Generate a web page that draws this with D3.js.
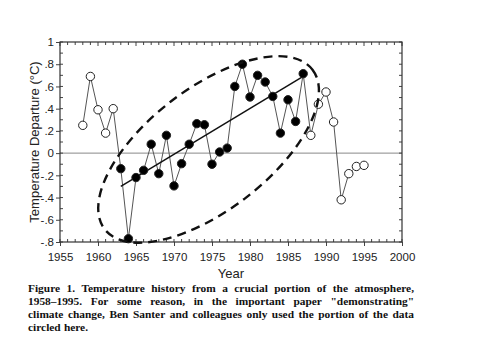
<!DOCTYPE html>
<html>
<head>
<meta charset="utf-8">
<script src="https://cdn.jsdelivr.net/npm/d3@7"></script>
<style>
  html, body { margin: 0; padding: 0; background: #fff; }
  svg { display: block; }
</style>
</head>
<body>
<div id="chart"></div>
<script>
// ---- data ----
const years = [1958,1959,1960,1961,1962,1963,1964,1965,1966,1967,1968,1969,1970,1971,1972,1973,1974,1975,1976,1977,1978,1979,1980,1981,1982,1983,1984,1985,1986,1987,1988,1989,1990,1991,1992,1993,1994,1995];
const temps = [0.25,0.69,0.39,0.18,0.40,-0.14,-0.77,-0.22,-0.155,0.08,-0.185,0.16,-0.295,-0.095,0.08,0.265,0.255,-0.10,0.01,0.045,0.60,0.80,0.505,0.70,0.64,0.51,0.18,0.48,0.285,0.715,0.16,0.44,0.55,0.28,-0.42,-0.185,-0.12,-0.11];
const usedRange = [1963, 1987];            // filled (circled) portion
const trendYears = [1963, 1987];
const trendValues = [-0.30, 0.69];
const ellipseCenter = [1974.55, 0.033];    // year, value
const xTicks = [1955,1960,1965,1970,1975,1980,1985,1990,1995,2000];
const yTicks = [-0.8,-0.6,-0.4,-0.2,0,0.2,0.4,0.6,0.8,1];
const yTickLabels = ["-.8","-.6","-.4","-.2","0",".2",".4",".6",".8","1"];
const captionLines = [
  "Figure 1. Temperature history from a crucial portion of the atmosphere,",
  "1958\u20131995. For some reason, in the important paper \"demonstrating\"",
  "climate change, Ben Santer and colleagues only used the portion of the data",
  "circled here."
];

// ---- layout ----
const W = 480, H = 361;
const svg = d3.select("#chart").append("svg").attr("width", W).attr("height", H);
svg.append("rect").attr("width", W).attr("height", H).attr("fill", "#fff");

const x = d3.scaleLinear().domain([1955, 2000]).range([60, 402]);
const y = d3.scaleLinear().domain([-0.8, 1]).range([242, 42]);
const L = x.range()[0], R = x.range()[1], T = y.range()[1], B = y.range()[0];

const sansFont = "'Liberation Sans', Arial, sans-serif";
const minorX = d3.range(1955, 2001, 1);
const minorY = d3.range(-8, 11, 1).map(d => d / 10);

// zero line
svg.append("line").attr("x1", L).attr("x2", R).attr("y1", y(0)).attr("y2", y(0))
  .attr("stroke", "#888").attr("stroke-width", 1);

// axes: bottom & left (major outward, minor inward)
const gB = svg.append("g").attr("transform", `translate(0,${B})`);
gB.call(d3.axisBottom(x).tickValues(xTicks).tickFormat(d3.format("d")).tickSize(4).tickPadding(7))
  .call(g => g.select(".domain").remove());
gB.selectAll("text").attr("font-family", sansFont).attr("font-size", 11.5).attr("fill", "#222");
gB.selectAll(".tick line").attr("stroke", "#444");
gB.append("g").selectAll("line").data(minorX).join("line")
  .attr("x1", d => x(d)).attr("x2", d => x(d)).attr("y1", 0).attr("y2", -3).attr("stroke", "#444");

const gL = svg.append("g").attr("transform", `translate(${L},0)`);
gL.call(d3.axisLeft(y).tickValues(yTicks).tickFormat((d, i) => yTickLabels[i]).tickSize(4).tickPadding(2))
  .call(g => g.select(".domain").remove());
gL.selectAll("text").attr("font-family", sansFont).attr("font-size", 11.5).attr("fill", "#222");
gL.selectAll(".tick line").attr("stroke", "#444");
gL.append("g").selectAll("line").data(minorY).join("line")
  .attr("y1", d => y(d)).attr("y2", d => y(d)).attr("x1", 0).attr("x2", 3).attr("stroke", "#444");

// top & right inward ticks
const gT = svg.append("g").attr("transform", `translate(0,${T})`);
gT.selectAll("line.mn").data(minorX).join("line")
  .attr("x1", d => x(d)).attr("x2", d => x(d)).attr("y1", 0).attr("y2", d => d % 5 === 0 ? 4 : 3).attr("stroke", "#444");
const gR = svg.append("g").attr("transform", `translate(${R},0)`);
gR.selectAll("line.mn").data(minorY).join("line")
  .attr("y1", d => y(d)).attr("y2", d => y(d)).attr("x1", 0).attr("x2", -3).attr("stroke", "#444");

// frame
svg.append("rect").attr("x", L).attr("y", T).attr("width", R - L).attr("height", B - T)
  .attr("fill", "none").attr("stroke", "#333").attr("stroke-width", 1.2);

// axis titles
svg.append("text").attr("x", (L + R) / 2).attr("y", 278).attr("text-anchor", "middle")
  .attr("font-family", sansFont).attr("font-size", 13).attr("fill", "#222").text("Year");
svg.append("text").attr("transform", `translate(39,${(T + B) / 2}) rotate(-90)`).attr("text-anchor", "middle")
  .attr("font-family", sansFont).attr("font-size", 13).attr("fill", "#222").text("Temperature Departure (°C)");

// data
const data = years.map((yr, i) => ({ yr, v: temps[i] }));
svg.append("path").datum(data)
  .attr("d", d3.line().x(d => x(d.yr)).y(d => y(d.v)))
  .attr("fill", "none").attr("stroke", "#555").attr("stroke-width", 1);

// trend line
svg.append("line")
  .attr("x1", x(trendYears[0])).attr("y1", y(trendValues[0]))
  .attr("x2", x(trendYears[1])).attr("y2", y(trendValues[1]))
  .attr("stroke", "#111").attr("stroke-width", 1.5);

// points
svg.append("g").selectAll("circle").data(data).join("circle")
  .attr("cx", d => x(d.yr)).attr("cy", d => y(d.v)).attr("r", 4.2)
  .attr("fill", d => (d.yr >= usedRange[0] && d.yr <= usedRange[1]) ? "#000" : "#fff")
  .attr("stroke", "#222").attr("stroke-width", 1);

// dashed ellipse
svg.append("ellipse")
  .attr("cx", 0).attr("cy", 0).attr("rx", 131).attr("ry", 61)
  .attr("transform", `translate(${x(ellipseCenter[0])},${y(ellipseCenter[1])}) rotate(-37.5)`)
  .attr("fill", "none").attr("stroke", "#111").attr("stroke-width", 2.4)
  .attr("stroke-dasharray", "9,6");

// caption, justified
const capX0 = 28, capX1 = 414, capY0 = 292, capDy = 12.9;
captionLines.forEach((line, li) => {
  const words = line.split(" ");
  const g = svg.append("g");
  const texts = words.map(w => g.append("text").attr("font-family", "'Liberation Serif', 'Times New Roman', serif")
    .attr("font-weight", "bold").attr("font-size", 11.4).attr("fill", "#111")
    .attr("y", capY0 + li * capDy).text(w));
  const widths = texts.map(t => t.node().getComputedTextLength());
  const total = d3.sum(widths);
  const justify = li < captionLines.length - 1;
  const gap = justify ? (capX1 - capX0 - total) / (words.length - 1) : 3.2;
  let cx = capX0;
  texts.forEach((t, i) => { t.attr("x", cx); cx += widths[i] + gap; });
});
</script>
</body>
</html>
